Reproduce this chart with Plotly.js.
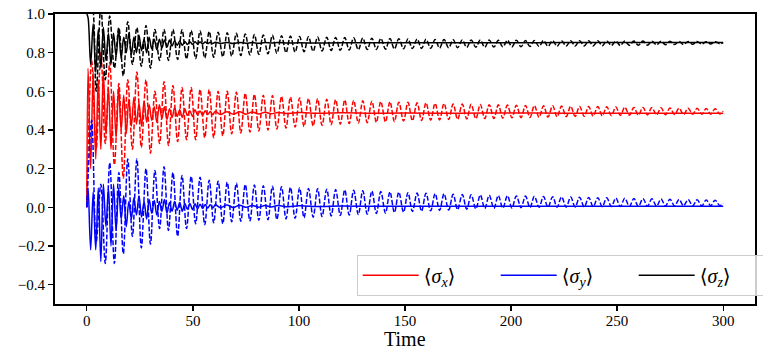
<!DOCTYPE html>
<html>
<head>
<meta charset="utf-8">
<script src="https://cdn.plot.ly/plotly-3.0.1.min.js"></script>
<style>
  html, body { margin: 0; padding: 0; background: #fff; }
  #chart { width: 763px; height: 356px; }
</style>
</head>
<body>
<div id="chart"></div>
<script>
// extrema of the dashed curves (peaks on even index, troughs on odd)
const tDash = [0,
    2.3, 4.4, 6.6, 8.7, 10.8, 13.0, 15.1, 17.2, 19.3, 21.5,
    23.6, 25.7, 27.9, 30.0, 32.1, 34.3, 36.4, 38.5, 40.6, 42.8,
    44.9, 47.0, 49.2, 51.3, 53.4, 55.6, 57.7, 59.8, 61.9, 64.1,
    66.2, 68.3, 70.5, 72.6, 74.7, 76.9, 79.0, 81.1, 83.2, 85.4,
    87.5, 89.6, 91.8, 93.9, 96.0, 98.2, 100.3, 102.4, 104.5, 106.7,
    108.8, 110.9, 113.1, 115.2, 117.3, 119.5, 121.6, 123.7, 125.8, 128.0,
    130.1, 132.2, 134.4, 136.5, 138.6, 140.8, 142.9, 145.0, 147.1, 149.3,
    151.4, 153.5, 155.7, 157.8, 159.9, 162.1, 164.2, 166.3, 168.4, 170.6,
    172.7, 174.8, 177.0, 179.1, 181.2, 183.4, 185.5, 187.6, 189.7, 191.9,
    194.0, 196.1, 198.3, 200.4, 202.5, 204.7, 206.8, 208.9, 211.0, 213.2,
    215.3, 217.4, 219.6, 221.7, 223.8, 226.0, 228.1, 230.2, 232.3, 234.5,
    236.6, 238.7, 240.9, 243.0, 245.1, 247.3, 249.4, 251.5, 253.6, 255.8,
    257.9, 260.0, 262.2, 264.3, 266.4, 268.6, 270.7, 272.8, 274.9, 277.1,
    279.2, 281.3, 283.5, 285.6, 287.7, 289.9, 292.0, 294.1, 296.2, 298.4,
    300];

const redDash = [0.0,
    0.76, 0.30, 0.80, 0.33, 0.75, 0.22, 0.64, 0.15, 0.66, 0.30,
    0.70, 0.31, 0.66, 0.28, 0.60, 0.33, 0.65, 0.32, 0.63, 0.34,
    0.62, 0.35, 0.62, 0.35, 0.61, 0.36, 0.61, 0.36, 0.60, 0.37,
    0.60, 0.38, 0.595, 0.385, 0.59, 0.39, 0.585, 0.395, 0.58, 0.40,
    0.578, 0.405, 0.574, 0.41, 0.57, 0.415, 0.566, 0.418, 0.563, 0.421,
    0.561, 0.424, 0.559, 0.427, 0.557, 0.43, 0.555, 0.433, 0.553, 0.436,
    0.551, 0.438, 0.549, 0.44, 0.547, 0.442, 0.546, 0.444, 0.544, 0.446,
    0.543, 0.448, 0.541, 0.449, 0.54, 0.451, 0.538, 0.452, 0.537, 0.454,
    0.535, 0.455, 0.534, 0.457, 0.533, 0.458, 0.532, 0.459, 0.531, 0.46,
    0.53, 0.461, 0.529, 0.463, 0.528, 0.464, 0.527, 0.465, 0.526, 0.466,
    0.525, 0.467, 0.525, 0.468, 0.524, 0.469, 0.523, 0.47, 0.522, 0.471,
    0.522, 0.472, 0.521, 0.473, 0.52, 0.474, 0.519, 0.475, 0.518, 0.476,
    0.517, 0.477, 0.517, 0.478, 0.516, 0.478, 0.515, 0.479, 0.514, 0.48,
    0.513, 0.48, 0.513, 0.481, 0.512, 0.482, 0.511, 0.482, 0.51, 0.483,
    0.497];

const blueDash = [0.0,
    0.45, -0.18, 0.12, -0.29, 0.23, -0.29, 0.18, -0.24, 0.25, -0.15,
    0.25, -0.21, 0.20, -0.19, 0.19, -0.11, 0.21, -0.12, 0.18, -0.15,
    0.165, -0.11, 0.16, -0.085, 0.155, -0.09, 0.14, -0.08, 0.135, -0.085,
    0.13, -0.075, 0.125, -0.072, 0.118, -0.07, 0.115, -0.067, 0.112, -0.064,
    0.109, -0.062, 0.106, -0.06, 0.103, -0.057, 0.1, -0.054, 0.098, -0.051,
    0.096, -0.048, 0.094, -0.045, 0.092, -0.042, 0.09, -0.04, 0.088, -0.037,
    0.086, -0.035, 0.084, -0.032, 0.082, -0.03, 0.08, -0.027, 0.078, -0.025,
    0.076, -0.022, 0.074, -0.02, 0.073, -0.018, 0.071, -0.016, 0.07, -0.014,
    0.068, -0.012, 0.067, -0.01, 0.065, -0.008, 0.064, -0.006, 0.062, -0.005,
    0.061, -0.004, 0.06, -0.003, 0.059, -0.002, 0.058, -0.001, 0.057, 0.0,
    0.056, 0.0, 0.055, 0.001, 0.054, 0.001, 0.053, 0.002, 0.052, 0.002,
    0.051, 0.003, 0.05, 0.003, 0.049, 0.004, 0.048, 0.004, 0.047, 0.005,
    0.046, 0.005, 0.045, 0.006, 0.044, 0.006, 0.043, 0.007, 0.042, 0.007,
    0.041, 0.008, 0.04, 0.008, 0.039, 0.008, 0.038, 0.009, 0.037, 0.009,
    0.02];

const blackDash = [1.0,
    1.06, 0.60, 1.04, 0.66, 0.99, 0.72, 0.93, 0.68, 0.96, 0.74,
    0.93, 0.73, 0.94, 0.72, 0.92, 0.76, 0.92, 0.76, 0.92, 0.765,
    0.918, 0.768, 0.915, 0.77, 0.912, 0.773, 0.909, 0.776, 0.906, 0.779,
    0.903, 0.782, 0.9, 0.785, 0.897, 0.788, 0.894, 0.791, 0.892, 0.794,
    0.89, 0.797, 0.888, 0.8, 0.886, 0.803, 0.884, 0.805, 0.882, 0.807,
    0.881, 0.809, 0.88, 0.811, 0.879, 0.812, 0.878, 0.814, 0.877, 0.815,
    0.876, 0.816, 0.875, 0.817, 0.874, 0.818, 0.873, 0.819, 0.872, 0.82,
    0.871, 0.821, 0.87, 0.822, 0.869, 0.823, 0.868, 0.824, 0.868, 0.825,
    0.867, 0.826, 0.866, 0.827, 0.866, 0.828, 0.865, 0.828, 0.865, 0.829,
    0.864, 0.83, 0.864, 0.83, 0.864, 0.831, 0.863, 0.832, 0.863, 0.832,
    0.863, 0.833, 0.862, 0.833, 0.862, 0.834, 0.862, 0.834, 0.862, 0.835,
    0.861, 0.835, 0.861, 0.836, 0.861, 0.837, 0.86, 0.837, 0.86, 0.838,
    0.86, 0.839, 0.86, 0.839, 0.859, 0.84, 0.859, 0.841, 0.859, 0.842,
    0.858, 0.842, 0.858, 0.843, 0.858, 0.844, 0.857, 0.845, 0.857, 0.846,
    0.852];

// solid curves: fast ripples early, settling later
const tSolid = [0, 0.6,
    1.8, 3.0, 4.2, 5.4, 6.6, 7.8, 9.0, 10.2, 11.4, 12.6,
    13.8, 15.0, 16.2, 17.4, 18.6, 19.8, 21.0, 22.2, 23.4, 24.6,
    25.8, 27.0, 28.2, 29.4, 30.6, 31.8, 33.0, 34.2, 35.4, 36.6,
    37.8, 39.0, 40.2, 41.4, 42.6, 43.8, 45.0, 46.2, 47.4, 48.6,
    49.8, 51.0, 52.2, 53.4, 54.6, 55.8, 57.0, 58.2, 59.4, 60.6,
    63, 66, 69, 72, 75, 78, 81, 84, 87, 90,
    95, 100, 110, 120, 135, 150, 175, 200, 225, 250, 275, 300];

const redSolid = [0.0, 0.72,
    0.20, 0.70, 0.25, 0.66, 0.30, 0.70, 0.38, 0.62, 0.30, 0.60,
    0.36, 0.62, 0.40, 0.58, 0.38, 0.56, 0.42, 0.57, 0.43, 0.54,
    0.42, 0.55, 0.44, 0.53, 0.45, 0.52, 0.44, 0.53, 0.46, 0.52,
    0.455, 0.51, 0.465, 0.515, 0.47, 0.505, 0.465, 0.51, 0.475, 0.50,
    0.47, 0.505, 0.478, 0.498, 0.476, 0.50, 0.48, 0.496, 0.479, 0.497,
    0.48, 0.495, 0.481, 0.494, 0.482, 0.493, 0.483, 0.492, 0.484, 0.491,
    0.485, 0.49, 0.486, 0.489, 0.487, 0.488, 0.487, 0.488, 0.487, 0.487, 0.487, 0.487];

const blueSolid = [0.0, 0.10,
    -0.22, 0.08, -0.22, 0.10, -0.28, 0.12, -0.10, 0.10, -0.20, 0.12,
    -0.12, 0.10, -0.06, 0.06, -0.10, 0.03, -0.06, 0.05, -0.04, 0.06,
    -0.05, 0.03, -0.06, 0.04, -0.03, 0.035, -0.04, 0.03, -0.02, 0.04,
    -0.03, 0.025, -0.02, 0.03, -0.015, 0.025, -0.02, 0.02, -0.01, 0.02,
    -0.012, 0.018, -0.008, 0.016, -0.006, 0.015, -0.004, 0.014, -0.003, 0.013,
    -0.002, 0.012, -0.001, 0.011, 0.0, 0.01, 0.001, 0.009, 0.002, 0.009,
    0.003, 0.008, 0.004, 0.007, 0.005, 0.006, 0.005, 0.006, 0.005, 0.006, 0.005, 0.006];

const blackSolid = [1.0, 0.98,
    0.74, 0.95, 0.70, 0.92, 0.72, 0.93, 0.76, 0.90, 0.74, 0.90,
    0.78, 0.92, 0.77, 0.88, 0.80, 0.90, 0.79, 0.88, 0.80, 0.89,
    0.81, 0.87, 0.80, 0.88, 0.82, 0.87, 0.815, 0.87, 0.825, 0.865,
    0.83, 0.865, 0.835, 0.862, 0.838, 0.86, 0.838, 0.858, 0.842, 0.857,
    0.843, 0.856, 0.845, 0.855, 0.846, 0.855, 0.847, 0.854, 0.847, 0.854,
    0.848, 0.853, 0.848, 0.853, 0.849, 0.852, 0.849, 0.852, 0.85, 0.852,
    0.85, 0.851, 0.85, 0.851, 0.851, 0.851, 0.851, 0.851, 0.852, 0.852, 0.852, 0.852];

const seriesNames = ["⟨<i>σ</i><sub><i>x</i></sub>⟩", "⟨<i>σ</i><sub><i>y</i></sub>⟩", "⟨<i>σ</i><sub><i>z</i></sub>⟩"];
const seriesColors = ["#ff0000", "#0000ff", "#000000"];
const xLabel = "Time";

const solidSets = [redSolid, blueSolid, blackSolid];
const dashSets = [redDash, blueDash, blackDash];

const serif = "'Liberation Serif', 'DejaVu Serif', serif";

function buildTraces() {
    const traces = [];
    for (let i = 0; i < 3; i++) {
        traces.push({
            x: tSolid, y: solidSets[i], mode: "lines", name: seriesNames[i],
            line: { color: seriesColors[i], width: 1.5, shape: "spline", smoothing: 1 },
            hoverinfo: "skip"
        });
        traces.push({
            x: tDash, y: dashSets[i], mode: "lines", showlegend: false,
            line: { color: seriesColors[i], width: 1.5, dash: "5px,2px", shape: "spline", smoothing: 1 },
            hoverinfo: "skip"
        });
    }
    return traces;
}

const axisCommon = {
    showgrid: false, zeroline: false, automargin: false,
    showline: true, mirror: true, linecolor: "#000", linewidth: 2,
    ticks: "outside", ticklen: 5, tickwidth: 1.3, tickcolor: "#000",
    tickfont: { family: serif, size: 15, color: "#000" }
};

const layout = {
    width: 763, height: 356,
    margin: { l: 55, r: 8, t: 14, b: 52, autoexpand: false },
    paper_bgcolor: "#fff", plot_bgcolor: "#fff",
    showlegend: true,
    xaxis: Object.assign({}, axisCommon, {
        range: [-15, 315], tick0: 0, dtick: 50, ticklabelstandoff: -3
    }),
    yaxis: Object.assign({}, axisCommon, {
        range: [-0.5, 1.0], tick0: 0, dtick: 0.2, tickformat: ".1f"
    }),
    annotations: [{
        text: xLabel, xref: "paper", yref: "paper", x: 0.5, y: -0.122,
        xanchor: "center", yanchor: "middle", showarrow: false,
        font: { family: serif, size: 20, color: "#000" }
    }],
    legend: {
        orientation: "h", x: 0.431, y: 0.17, xanchor: "left", yanchor: "top",
        bgcolor: "rgba(255,255,255,0.8)", bordercolor: "#cccccc", borderwidth: 1,
        font: { family: serif, size: 20, color: "#000" },
        itemwidth: 56, entrywidth: 67, entrywidthmode: "pixels"
    }
};

Plotly.newPlot("chart", buildTraces(), layout, { displayModeBar: false, staticPlot: true });
</script>
</body>
</html>
